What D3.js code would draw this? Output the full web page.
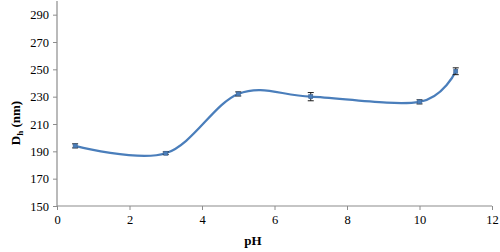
<!DOCTYPE html>
<html>
<head>
<meta charset="utf-8">
<script src="https://cdn.jsdelivr.net/npm/d3@7"></script>
<style>
  body { margin: 0; background: #fff; }
</style>
</head>
<body>
<div id="chart"></div>
<script>
// Data
var phValues = [0.5, 3, 5, 7, 10, 11];
var sizeValues = [194, 188.6, 232, 230, 226.2, 248.6];
var sizeErrors = [1.5, 1, 1.5, 3, 1.5, 2.5];
var xTicks = [0, 2, 4, 6, 8, 10, 12];
var yTicks = [150, 170, 190, 210, 230, 250, 270, 290];

var svgWidth = 500;
var svgHeight = 252;
var serif = "'Liberation Serif', 'DejaVu Serif', serif";

var margin = { top: 1, right: 8, bottom: 46, left: 57 };
var chartWidth = svgWidth - margin.left - margin.right;
var chartHeight = svgHeight - margin.top - margin.bottom;

var svg = d3.select("#chart")
  .append("svg")
  .attr("width", svgWidth)
  .attr("height", svgHeight)
  .attr("font-family", serif);

var chartGroup = svg.append("g")
  .attr("transform", `translate(${margin.left}, ${margin.top})`);

var x = d3.scaleLinear().domain([0, 12]).range([0, chartWidth]);
var y = d3.scaleLinear().domain([150, 300]).range([chartHeight, 0]);

// Axes
var xAxis = chartGroup.append("g")
  .attr("transform", "translate(0," + chartHeight + ")")
  .call(d3.axisBottom(x).tickValues(xTicks).tickSize(4).tickPadding(5).tickFormat(d3.format("d")));
var yAxis = chartGroup.append("g")
  .call(d3.axisLeft(y).tickValues(yTicks).tickSize(4).tickPadding(4).tickFormat(d3.format("d")));

[xAxis, yAxis].forEach(function(ax) {
  ax.attr("font-family", serif).attr("font-size", 12.5);
  ax.select(".domain").attr("stroke", "#8c8c8c").attr("stroke-width", 1.2);
  ax.selectAll(".tick line").attr("stroke", "#8c8c8c");
  ax.selectAll(".tick text").attr("fill", "#000");
});
// strip the outer end ticks on the domain path
xAxis.select(".domain").attr("d", `M0,0H${chartWidth}`);
yAxis.select(".domain").attr("d", `M0,${chartHeight}V0`);

var points = phValues.map(function(p, i) {
  return { ph: p, size: sizeValues[i], err: sizeErrors[i] };
});

// Smoothed line
var line = d3.line()
  .x(d => x(d.ph))
  .y(d => y(d.size))
  .curve(d3.curveCardinal.tension(0));

chartGroup.append("path")
  .datum(points)
  .attr("d", line)
  .attr("fill", "none")
  .attr("stroke", "#4a7ebb")
  .attr("stroke-width", 2.25);

// Error bars
var errGroup = chartGroup.append("g").attr("stroke", "#1a1a1a").attr("stroke-width", 1);
points.forEach(function(d) {
  var cx = x(d.ph);
  errGroup.append("line")
    .attr("x1", cx).attr("x2", cx)
    .attr("y1", y(d.size - d.err)).attr("y2", y(d.size + d.err));
  errGroup.append("line")
    .attr("x1", cx - 3).attr("x2", cx + 3)
    .attr("y1", y(d.size - d.err)).attr("y2", y(d.size - d.err));
  errGroup.append("line")
    .attr("x1", cx - 3).attr("x2", cx + 3)
    .attr("y1", y(d.size + d.err)).attr("y2", y(d.size + d.err));
});

// Markers
chartGroup.append("g")
  .selectAll("rect")
  .data(points)
  .enter()
  .append("rect")
  .attr("x", d => x(d.ph) - 2)
  .attr("y", d => y(d.size) - 2)
  .attr("width", 4)
  .attr("height", 4)
  .attr("fill", "#4a7ebb")
  .attr("stroke", "#41648f")
  .attr("stroke-width", 0.6);

// Axis labels
svg.append("text")
  .attr("x", 253)
  .attr("y", 245)
  .attr("text-anchor", "middle")
  .attr("font-size", 13)
  .attr("font-weight", "bold")
  .text("pH");

var yLabel = svg.append("text")
  .attr("transform", "translate(20,123) rotate(-90)")
  .attr("text-anchor", "middle")
  .attr("font-size", 13)
  .attr("font-weight", "bold");
yLabel.append("tspan").text("D");
yLabel.append("tspan").attr("dy", 3).attr("font-size", 9).text("h");
yLabel.append("tspan").attr("dy", -3).text(" (nm)");
</script>
</body>
</html>
